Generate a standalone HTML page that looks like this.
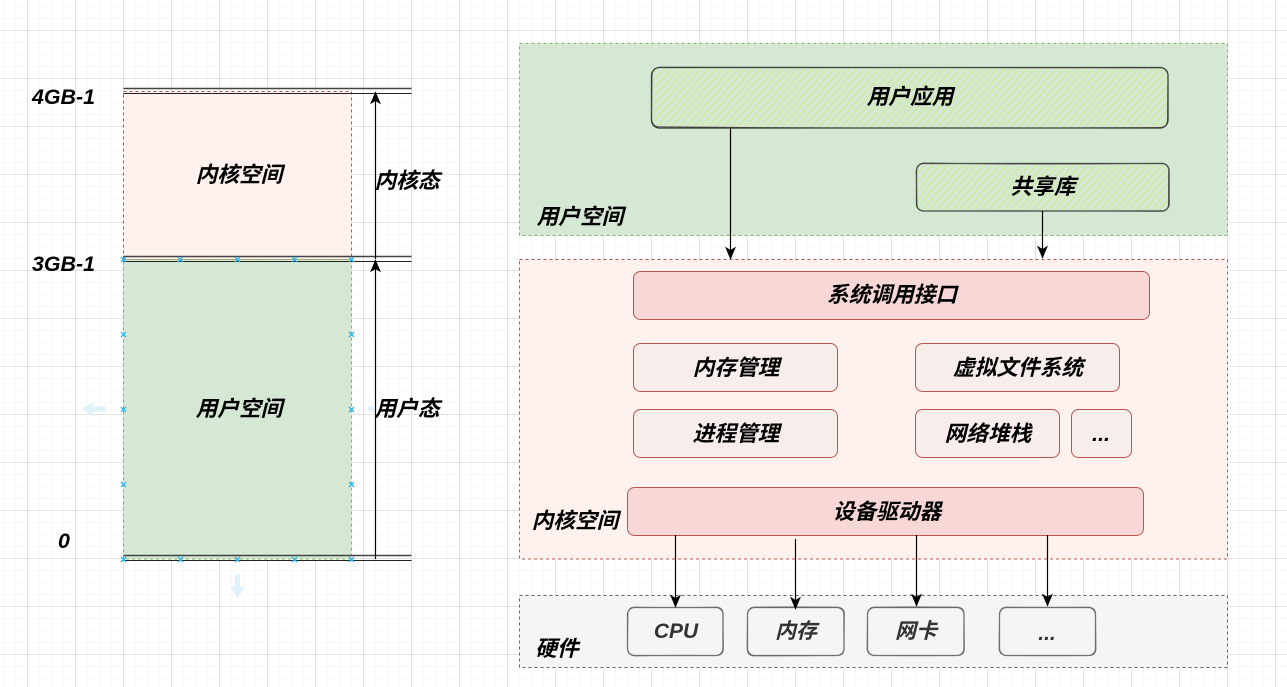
<!DOCTYPE html>
<html><head><meta charset="utf-8"><style>
html,body{margin:0;padding:0;background:#fff;overflow:hidden}
svg{display:block}
text{font-family:"Liberation Sans","Noto Sans CJK SC",sans-serif;font-weight:bold;font-style:italic;font-size:21.7px;text-anchor:middle;fill:#000}
.l{font-size:21.4px}
.d{font-size:21px;fill:#333}
</style></head><body>
<svg width="1287" height="687" viewBox="0 0 1287 687" xmlns="http://www.w3.org/2000/svg">
<defs>
<pattern id="minor" x="27" y="30" width="12" height="12" patternUnits="userSpaceOnUse"><path d="M0 .5H12M.5 0V12" stroke="#f8f8f8" fill="none"/></pattern>
<pattern id="major" x="27" y="30" width="48" height="48" patternUnits="userSpaceOnUse"><path d="M0 .5H48M.5 0V48" stroke="#e2e2e2" stroke-width="1" fill="none"/></pattern>
<pattern id="hatch" width="5.5" height="5.5" patternUnits="userSpaceOnUse" patternTransform="rotate(42)"><rect width="5.5" height="5.5" fill="#d5e8d4"/><rect width="1.4" height="5.5" fill="#cdeb9c"/></pattern>
<marker id="a" viewBox="0 0 10 10" refX="9.5" refY="5" markerWidth="13" markerHeight="13" markerUnits="userSpaceOnUse" orient="auto"><path d="M0 0.8L10 5L0 9.2L2.6 5Z" fill="#000"/></marker>
<g id="x"><path d="M-2.5 -2.5L2.5 2.5M-2.5 2.5L2.5 -2.5" stroke="#29b6f2" stroke-width="1.3"/></g>
</defs>
<rect width="1287" height="687" fill="#fff"/>
<rect width="1287" height="687" fill="url(#minor)"/>
<rect width="1287" height="687" fill="url(#major)"/>

<!-- left column -->
<rect x="123.5" y="91.5" width="228" height="168" fill="#fff2ee" stroke="#b85450" stroke-dasharray="3 3"/>
<rect x="123.5" y="259.5" width="228" height="299.5" fill="#d5e8d4" stroke="#82b366" stroke-dasharray="3 3"/>
<g stroke="#222" fill="none">
<path d="M123.5 88.5H411.5" stroke="#444" stroke-width="1.4"/><path d="M123.5 93.5H411.5"/>
<path d="M123.5 256.5H411.5" stroke="#444" stroke-width="1.4"/><path d="M123.5 261.5H411.5"/>
<path d="M123.5 555.5H411.5" stroke="#444" stroke-width="1.4"/><path d="M123.5 560.5H411.5"/>
</g>
<path d="M375.5 259V92" stroke="#000" stroke-width="1.2" marker-end="url(#a)"/>
<path d="M375.5 559V260" stroke="#000" stroke-width="1.2" marker-end="url(#a)"/>
<g>
<use href="#x" x="123.5" y="259.5"/><use href="#x" x="180.5" y="259.5"/><use href="#x" x="237.5" y="259.5"/><use href="#x" x="294.5" y="259.5"/><use href="#x" x="351.5" y="259.5"/>
<use href="#x" x="123.5" y="334.5"/><use href="#x" x="351.5" y="334.5"/>
<use href="#x" x="123.5" y="409.5"/><use href="#x" x="351.5" y="409.5"/>
<use href="#x" x="123.5" y="484.5"/><use href="#x" x="351.5" y="484.5"/>
<use href="#x" x="123.5" y="559.5"/><use href="#x" x="180.5" y="559.5"/><use href="#x" x="237.5" y="559.5"/><use href="#x" x="294.5" y="559.5"/><use href="#x" x="351.5" y="559.5"/>
</g>
<path d="M82 409L93 402V406.5H105.5V411.5H93V416Z" fill="#dff2fc"/>
<path d="M237.5 598L230 587H235V574.5H240V587H245Z" fill="#dff2fc"/>
<path d="M368 406.5H375V411.5H368Z" fill="#dff2fc"/>
<text class="l" x="63.5" y="104">4GB-1</text>
<text class="l" x="63.5" y="271">3GB-1</text>
<text class="l" x="64" y="548">0</text>
<text x="239" y="182">内核空间</text>
<text x="239" y="416">用户空间</text>
<text x="407" y="188">内核态</text>
<text x="407" y="416">用户态</text>

<!-- right column containers -->
<rect x="519.5" y="43.5" width="708" height="192" fill="#d5e8d4" stroke="#82b366" stroke-dasharray="3 3"/>
<rect x="519.5" y="259.5" width="708" height="299.5" fill="#fff2ee" stroke="#b85450" stroke-dasharray="3 3"/>
<rect x="519.5" y="595.5" width="708" height="72" fill="#f5f5f5" stroke="#666" stroke-dasharray="3 3"/>

<!-- user space -->
<rect x="651.5" y="67.5" width="516.5" height="60.5" rx="8" fill="url(#hatch)" stroke="#333" stroke-width="1.3"/>
<path d="M660 67.2Q900 66.5 1160 67.8Q1168.5 68 1168 76L1167.5 120Q1167.5 127.5 1159 127.5Q900 129 660 126.8Q652 127 651.5 118L652 76Q652 68 660 67.2Z" fill="none" stroke="#444" stroke-width=".9"/>
<rect x="916.5" y="163.5" width="252.5" height="47.5" rx="7" fill="url(#hatch)" stroke="#333" stroke-width="1.3"/>
<path d="M924 163Q1040 165 1162 163.2Q1169 164 1168.6 171L1168.4 204Q1168.6 211 1161 211.4Q1040 210.5 924 211Q917 210.5 917 204L916.2 171Q917 163.5 924 163Z" fill="none" stroke="#555" stroke-width=".9"/>
<text x="910" y="104">用户应用</text>
<text x="1043" y="194">共享库</text>
<text x="580" y="224">用户空间</text>
<path d="M730.5 128V259" stroke="#000" stroke-width="1.2" marker-end="url(#a)"/>
<path d="M1042.5 211V258" stroke="#000" stroke-width="1.2" marker-end="url(#a)"/>

<!-- kernel -->
<g stroke="#b85450" stroke-width="1">
<rect x="633.5" y="271.5" width="516" height="48" rx="7" fill="#f8d8d6"/>
<rect x="633.5" y="343.5" width="204" height="48" rx="7" fill="#f7eeeb"/>
<rect x="915.5" y="343.5" width="204" height="48" rx="7" fill="#f7eeeb"/>
<rect x="633.5" y="409.5" width="204" height="48" rx="7" fill="#f7eeeb"/>
<rect x="915.5" y="409.5" width="144" height="48" rx="7" fill="#f7eeeb"/>
<rect x="1071.5" y="409.5" width="60" height="48" rx="7" fill="#f7eeeb"/>
<rect x="627.5" y="487.5" width="516" height="48" rx="7" fill="#f8d8d6"/>
</g>
<text x="892" y="302">系统调用接口</text>
<text x="736" y="375">内存管理</text>
<text x="1018" y="375">虚拟文件系统</text>
<text x="736" y="441">进程管理</text>
<text x="988" y="441">网络堆栈</text>
<text x="1101" y="441">...</text>
<text x="887" y="519">设备驱动器</text>
<text x="575" y="528">内核空间</text>

<!-- hardware -->
<g fill="#f5f5f5" stroke="#666" stroke-width="1.3">
<rect x="627.5" y="607.5" width="95.5" height="48" rx="7"/>
<rect x="747.5" y="607.5" width="96.5" height="48" rx="7"/>
<rect x="867.5" y="607.5" width="96.5" height="48" rx="7"/>
<rect x="999.5" y="607.5" width="96" height="48" rx="7"/>
</g>
<g fill="none" stroke="#777" stroke-width=".8">
<path d="M634 607Q675 608 717 607Q723.5 608 723 614L723.5 649Q723 656 716 655.5Q675 655 634 656Q628 655 627.5 649L628 614Q628 607.5 634 607Z"/>
<path d="M754 607Q795 606.5 838 607Q844.5 608 844.5 614L844 649Q844 656 837 655.5Q795 656 754 656Q747.5 656 747 649L747.5 614Q748 607.5 754 607Z"/>
<path d="M874 607Q915 606.5 958 607Q964.5 608 964 614L964.5 649Q964 656 957 655.5Q915 656 874 655.5Q867.5 655 867 649L867.5 614Q868 607.5 874 607Z"/>
<path d="M1006 607Q1047 607.5 1089 607Q1096 608 1095.5 614L1096 649Q1095.5 656 1089 655.5Q1047 656 1006 655.5Q999.5 655 999 649L999.5 614Q1000 607.5 1006 607Z"/>
</g>
<text class="d" x="676" y="638">CPU</text>
<text class="d" x="796" y="638">内存</text>
<text class="d" x="916" y="638">网卡</text>
<text class="d" x="1047" y="640">...</text>
<text x="557" y="656">硬件</text>
<path d="M675.5 535V607" stroke="#000" stroke-width="1.2" marker-end="url(#a)"/>
<path d="M795.5 539V609" stroke="#000" stroke-width="1.2" marker-end="url(#a)"/>
<path d="M916.5 535V606" stroke="#000" stroke-width="1.2" marker-end="url(#a)"/>
<path d="M1047.5 535V606" stroke="#000" stroke-width="1.2" marker-end="url(#a)"/>
</svg>
</body></html>
